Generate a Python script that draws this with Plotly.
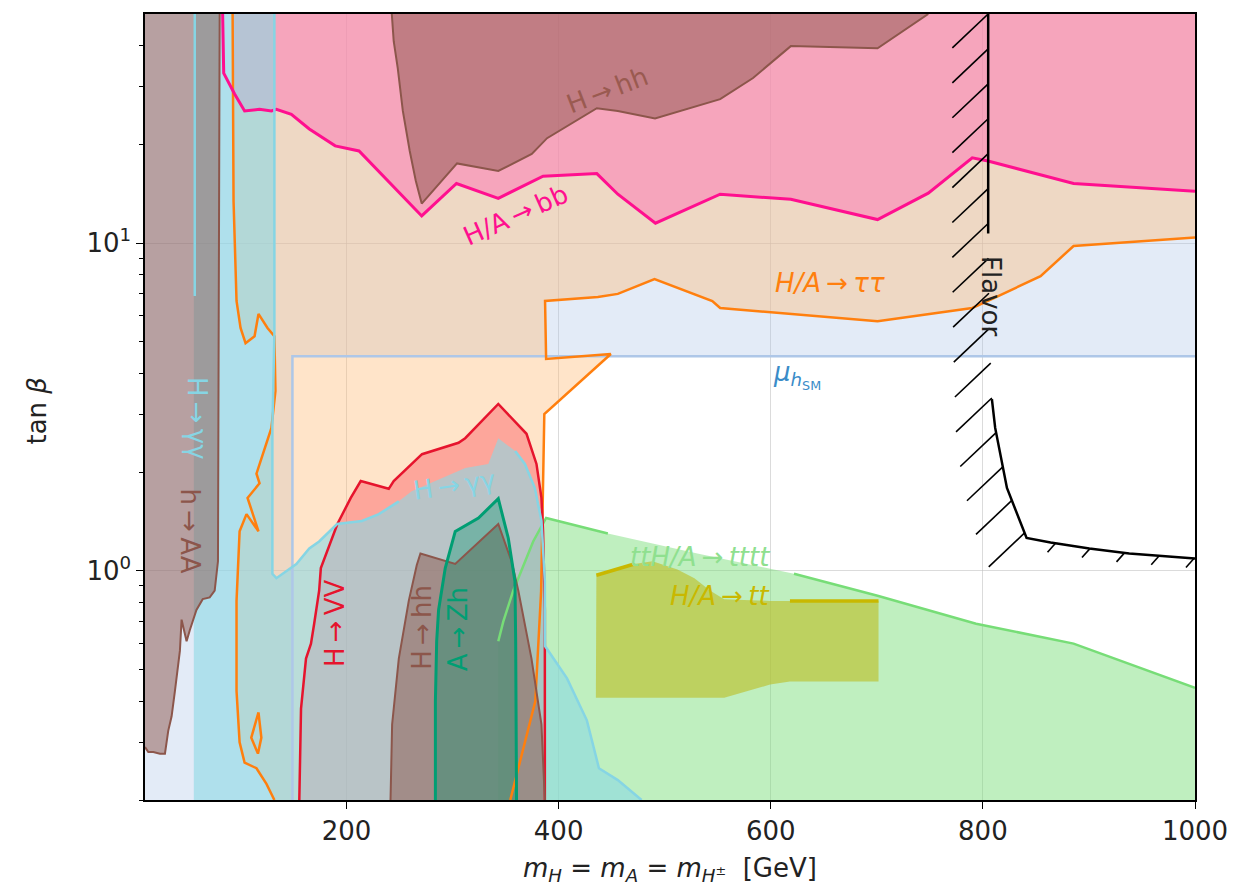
import numpy as np
import plotly.graph_objects as go

# ---------------------------------------------------------------------------
# Axis ranges
MASS_RANGE = [10, 1000]          # m_H = m_A = m_H+- [GeV]
TANB_RANGE = [0.2, 50]           # tan(beta)

# ---------------------------------------------------------------------------
# Excluded regions (mass in GeV, tan(beta))

# mu_hSM: excluded below MU_MASS_EDGE and above MU_TANB_EDGE
MU_MASS_EDGE = 149
MU_TANB_EDGE = 4.52

# h -> AA (brown band at low mass)
HAA_M = [10, 80.4, 79.5, 78.8, 75.7, 71.0, 64.4, 61.6, 58.5, 52.3, 49.2, 44.5,
         42.9, 38.2, 35.1, 31.9, 28.8, 24.1, 17.8, 13.1, 10]
HAA_TB = [50, 50, 5.0, 1.07, 0.87, 0.83, 0.82, 0.79, 0.76, 0.66, 0.61, 0.71,
          0.57, 0.43, 0.36, 0.325, 0.277, 0.277, 0.28, 0.28, 0.29]

# H -> gamma gamma
HGG_LEFT_M = [56.9, 56.9]
HGG_LEFT_TB = [50, 6.9]
HGG_M = [56, 132, 132, 130.1, 130.1, 133.9, 152.7, 164.9, 174.2, 191.1, 214.6,
         230.5, 249.3, 261.4, 312, 333.7, 343.1, 359, 368.2, 377.6, 383.8, 387,
         387.2, 407.9, 426.6, 438, 455.8, 478.2, 56]
HGG_TB = [50, 50, 5.28, 2.73, 0.98, 0.95, 1.05, 1.17, 1.23, 1.39, 1.42,
          1.49, 1.63, 1.75, 2.06, 2.12, 2.54, 2.32, 2.12, 1.79, 1.42, 0.93,
          0.59, 0.47, 0.35, 0.25, 0.23, 0.2, 0.2]

# H/A -> tau tau
TAU_LEFT_M = [92.6, 93.5, 96.3, 100.1, 104.8, 113.3, 117, 125.5, 132, 133,
              129.2, 115.1, 118, 106.7, 117, 105.7, 99.2, 96.3, 96.3, 99.2,
              103.9, 115.1, 124.5, 132]
TAU_LEFT_TB = [50, 13.4, 6.66, 5.51, 4.95, 5.2, 6.08, 5.51, 5.2, 3.54,
               2.73, 1.98, 1.85, 1.67, 1.32, 1.49, 1.32, 0.81, 0.43, 0.30,
               0.26, 0.25, 0.224, 0.2]
TAU_RIGHT_M = [354.4, 378, 383.5, 386.5, 449.2, 388.2, 387.2, 437, 455.8,
               490.4, 544.9, 552.3, 700.7, 790, 804.8, 854.4, 885.5, 1000]
TAU_RIGHT_TB = [0.2, 0.40, 0.87, 3.01, 4.59, 4.43, 6.66, 6.85, 7.0,
                7.77, 6.66, 6.34, 5.78, 6.34, 6.66, 7.93, 9.8, 10.4]
TAU_ISLAND_M = [117, 119.7, 116.5, 110.2, 117]
TAU_ISLAND_TB = [0.37, 0.31, 0.277, 0.31, 0.37]

# H/A -> bb
BB_M = [83.2, 84.2, 94.5, 103.9, 117.9, 129.2, 133.9, 148, 164.9, 189.3,
        211.8, 270.9, 303.7, 343.1, 385.3, 436, 455.8, 491.3, 552.3, 618.9,
        700.7, 748.5, 790, 804.8, 885.5, 1000]
BB_TB = [50, 33, 28.5, 25.3, 25.6, 25.3, 25.6, 24.7, 22.3, 19.8,
         19.1, 12.1, 15.2, 13.7, 16.0, 16.3, 14.1, 11.5, 14.1, 13.6,
         11.8, 14.2, 18.2, 17.8, 15.2, 14.4]

# H -> hh (high tan(beta) island and low tan(beta) island)
HH_TOP_M = [242.7, 244.5, 248.3, 253.1, 259.6, 265.3, 270.9, 304.2, 343.1,
            374.7, 389.1, 436, 455.8, 490.9, 552.3, 583.3, 618.9, 700.7, 748.5]
HH_TOP_TB = [50, 41.3, 34.2, 25.3, 19.1, 15.5, 13.2, 17.5, 16.6,
             18.7, 20.9, 25.8, 25.3, 24.0, 27.5, 31.9, 39.9, 39.3, 50]
HH_LOW_M = [241.5, 243, 249.3, 258.7, 266.2, 269.7, 302.5, 343.1, 355.6, 362,
            374.4, 383.8, 387]
HH_LOW_TB = [0.2, 0.34, 0.54, 0.81, 1.04, 1.13, 1.05, 1.39, 1.07, 0.87,
             0.54, 0.34, 0.2]

# H -> VV
VV_M = [155.5, 157.1, 161.8, 166.5, 169.5, 174.2, 175.8, 191.4, 204, 213.4,
        239.8, 244.5, 271.2, 305.6, 311.9, 343.1, 369.7, 379.1, 383.8, 385.3,
        387, 387]
VV_TB = [0.2, 0.38, 0.54, 0.60, 0.69, 0.87, 1.02, 1.39, 1.67, 1.88,
         1.78, 1.88, 2.27, 2.46, 2.54, 3.23, 2.62, 2.12, 1.67, 1.32,
         0.76, 0.2]

# A -> Zh
AZH_M = [283.8, 283.8, 285, 286.8, 293.1, 302.5, 324.4, 343.1, 352.5, 358.8,
         359.5, 360.3]
AZH_TB = [0.2, 0.40, 0.61, 0.76, 1.02, 1.32, 1.45, 1.66, 1.26, 0.93,
          0.61, 0.2]

# ttH/A -> tttt
TTTT_M = [343.1, 347.8, 357.2, 366.6, 376, 388.2, 446.4, 530.8, 621.9, 700.7,
          793.6, 885.5, 1000]
TTTT_TB = [0.61, 0.70, 0.87, 1.04, 1.23, 1.45, 1.30, 1.13, 0.98, 0.84,
           0.69, 0.60, 0.44]

# H/A -> tt
HTT_M = [435.6, 471.4, 488.5, 512, 528, 543, 556.1, 599.3, 618.1, 701.6,
         701.6, 618.1, 599.3, 556.1, 435.1]
HTT_TB = [0.97, 1.05, 1.07, 1.01, 0.95, 0.87, 0.82, 0.81, 0.81, 0.81,
          0.46, 0.46, 0.45, 0.41, 0.41]

# Flavour constraint (excluded on the lower-left side)
FLAVOR_M = [805, 805, 806, 808.5, 811.6, 822.7, 841.2, 863.8, 900.4, 938, 1000]
FLAVOR_TB = [50, 10.7, 6.0, 3.34, 2.73, 1.79, 1.26, 1.22, 1.17, 1.13, 1.09]

# Axis ticks
X_TICKS = [200, 400, 600, 800, 1000]
Y_TICKS = [1, 10]
Y_TICK_TEXT = ["10<sup>0</sup>", "10<sup>1</sup>"]
Y_MINOR = [0.2, 0.3, 0.4, 0.5, 0.6, 0.7, 0.8, 0.9, 2, 3, 4, 5, 6, 7, 8, 9,
           20, 30, 40]

# ---------------------------------------------------------------------------
FIG_W, FIG_H = 1240, 895
MARGIN = dict(l=145, r=40, t=12, b=95)
FONT = "DejaVu Sans"

C_MU = "#aec7e8"
C_TAU = "#ff7f0e"
C_BB = "#ff0f8f"
C_CYAN = "#86d5e4"
C_BROWN = "#8c564b"
C_RED = "#e6142d"
C_TEAL = "#009e73"
C_GREEN = "#77dd77"
C_OLIVE = "#c9b800"

fig = go.Figure()


def add_fill(m, tb, color):
    fig.add_trace(go.Scatter(x=m, y=tb, mode="lines", fill="toself",
                             fillcolor=color, line=dict(width=0),
                             hoverinfo="skip", showlegend=False))


def add_line(m, tb, color, width):
    fig.add_trace(go.Scatter(x=m, y=tb, mode="lines",
                             line=dict(color=color, width=width),
                             connectgaps=False, hoverinfo="skip",
                             showlegend=False))


def with_gap(m, tb, keep_a, keep_b):
    """Join two index ranges of a path with a break between them."""
    xs = list(m[keep_a[0]:keep_a[1]]) + [None] + list(m[keep_b[0]:keep_b[1]])
    ys = list(tb[keep_a[0]:keep_a[1]]) + [None] + list(tb[keep_b[0]:keep_b[1]])
    return xs, ys


lo_m, hi_m = MASS_RANGE
lo_tb, hi_tb = TANB_RANGE

# ---- filled regions (drawn back to front) ----------------------------------
add_fill([lo_m, MU_MASS_EDGE, MU_MASS_EDGE, hi_m, hi_m, lo_m],
         [lo_tb, lo_tb, MU_TANB_EDGE, MU_TANB_EDGE, hi_tb, hi_tb],
         "rgba(174,199,232,0.35)")

add_fill(TAU_LEFT_M + TAU_RIGHT_M + [hi_m, TAU_LEFT_M[0]],
         TAU_LEFT_TB + TAU_RIGHT_TB + [hi_tb, hi_tb],
         "rgba(255,187,120,0.40)")

add_fill(TTTT_M + [hi_m, TTTT_M[0]], TTTT_TB + [lo_tb, lo_tb],
         "rgba(120,220,120,0.47)")

add_fill(HTT_M, HTT_TB, "rgba(188,189,34,0.60)")

add_fill([TAU_LEFT_M[0]] + BB_M[2:] + [hi_m],
         [hi_tb] + BB_TB[2:] + [hi_tb],
         "rgba(255,105,180,0.45)")

add_fill(VV_M, VV_TB, "rgba(248,40,60,0.33)")

add_fill(HGG_M, HGG_TB, "rgba(140,216,228,0.60)")

add_fill(HAA_M, HAA_TB, "rgba(140,86,75,0.50)")
add_fill(HH_TOP_M, HH_TOP_TB, "rgba(140,86,75,0.50)")
add_fill(HH_LOW_M, HH_LOW_TB, "rgba(140,86,75,0.50)")

add_fill(AZH_M, AZH_TB, "rgba(0,150,110,0.35)")

# ---- boundary lines --------------------------------------------------------
add_line([MU_MASS_EDGE, MU_MASS_EDGE, hi_m], [lo_tb, MU_TANB_EDGE, MU_TANB_EDGE],
         C_MU, 2.5)

add_line(TAU_LEFT_M, TAU_LEFT_TB, C_TAU, 2.5)
add_line(TAU_RIGHT_M, TAU_RIGHT_TB, C_TAU, 2.5)
add_line(TAU_ISLAND_M, TAU_ISLAND_TB, C_TAU, 2.5)

add_line(BB_M, BB_TB, C_BB, 3)

gx, gy = with_gap(TTTT_M, TTTT_TB, (0, 7), (8, len(TTTT_M)))
add_line(gx, gy, C_GREEN, 2.5)

ox, oy = with_gap(HTT_M, HTT_TB, (0, 2), (8, 10))
add_line(ox, oy, C_OLIVE, 3.5)

add_line(VV_M, VV_TB, C_RED, 2.5)

add_line(HGG_LEFT_M, HGG_LEFT_TB, C_CYAN, 2.5)
cx, cy = with_gap(HGG_M, HGG_TB, (1, 13), (17, len(HGG_M) - 1))
add_line(cx, cy, C_CYAN, 2.5)

add_line(HAA_M[1:], HAA_TB[1:], C_BROWN, 2)
add_line(HH_TOP_M, HH_TOP_TB, C_BROWN, 2)
add_line(HH_LOW_M, HH_LOW_TB, C_BROWN, 2)

add_line(AZH_M, AZH_TB, C_TEAL, 3)

# ---- flavour boundary with ticked side -------------------------------------
fx, fy = with_gap(FLAVOR_M, FLAVOR_TB, (0, 2), (3, len(FLAVOR_M)))
add_line(fx, fy, "black", 2.5)

plot_w = FIG_W - MARGIN["l"] - MARGIN["r"]
plot_h = FIG_H - MARGIN["t"] - MARGIN["b"]
px_per_gev = plot_w / (hi_m - lo_m)
px_per_dec = plot_h / (np.log10(hi_tb) - np.log10(lo_tb))

u = (np.array(FLAVOR_M) - lo_m) * px_per_gev
v = -np.log10(FLAVOR_TB) * px_per_dec            # screen coordinates, y down
seg = np.hypot(np.diff(u), np.diff(v))
cum = np.concatenate([[0], np.cumsum(seg)])
hatch_x, hatch_y = [], []
step = 35.0
s = 0.0
while s <= cum[-1]:
    i = min(np.searchsorted(cum, s, side="right") - 1, len(seg) - 1)
    t = (s - cum[i]) / seg[i]
    pu = u[i] + t * (u[i + 1] - u[i])
    pv = v[i] + t * (v[i + 1] - v[i])
    du, dv = u[i + 1] - u[i], v[i + 1] - v[i]
    if abs(dv) > abs(du):
        ou, ov = -36.0, 34.0
    else:
        ou, ov = -8.0, 9.0
    for qu, qv in ((pu, pv), (pu + ou, pv + ov)):
        hatch_x.append(qu / px_per_gev + lo_m)
        hatch_y.append(10 ** (-qv / px_per_dec))
    hatch_x.append(None)
    hatch_y.append(None)
    s += step
add_line(hatch_x, hatch_y, "black", 1.6)

# ---- region labels ---------------------------------------------------------
ARW = "\u2009\u2192\u2009"
LABELS = [
    ("H" + ARW + "hh", 446.4, 29.3, -21, "#9a5a50"),
    ("H/A" + ARW + "bb", 359.6, 12.2, -24, C_BB),
    ("<i>H/A</i>" + ARW + "<i>ττ</i>", 655.5, 7.55, 0, C_TAU),
    ("<i>μ</i><sub><i>h</i><sub>SM</sub></sub>", 624.5, 3.95, 0, "#3a8cc8"),
    ("Flavor", 807.5, 6.9, 90, "#222222"),
    ("H" + ARW + "γγ", 58.8, 2.91, 90, C_CYAN),
    ("h" + ARW + "AA", 52.2, 1.32, 90, C_BROWN),
    ("H" + ARW + "γγ", 301.8, 1.83, -8, C_CYAN),
    ("H" + ARW + "VV", 189.2, 0.694, -90, C_RED),
    ("H" + ARW + "hh", 271.0, 0.675, -90, C_BROWN),
    ("A" + ARW + "Zh", 304.6, 0.666, -90, C_TEAL),
    ("<i>ttH/A</i>" + ARW + "<i>tttt</i>", 533.6, 1.10, 0, "#8fe08f"),
    ("<i>H/A</i>" + ARW + "<i>tt</i>", 551.4, 0.84, 0, C_OLIVE),
]
for text, m, tb, ang, col in LABELS:
    fig.add_annotation(x=m, y=np.log10(tb), xref="x", yref="y", text=text,
                       showarrow=False, textangle=ang,
                       font=dict(family=FONT, size=26, color=col),
                       xanchor="center", yanchor="middle")

# ---- axis titles -----------------------------------------------------------
fig.add_annotation(
    x=0.5, y=-(870 - 800) / plot_h, xref="paper", yref="paper",
    text="<i>m<sub>H</sub></i> = <i>m<sub>A</sub></i> = "
         "<i>m<sub>H<sup>±</sup></sub></i>  [GeV]",
    showarrow=False, xanchor="center", yanchor="middle",
    font=dict(family=FONT, size=26, color="#222222"))
fig.add_annotation(
    x=(36 - MARGIN["l"]) / plot_w, y=(800 - 410) / plot_h,
    xref="paper", yref="paper", text="tan <i>β</i>", textangle=-90,
    showarrow=False, xanchor="center", yanchor="middle",
    font=dict(family=FONT, size=26, color="#222222"))

axis_common = dict(showline=True, linecolor="black", linewidth=1.5, mirror=True,
                   ticks="outside", ticklen=7, tickwidth=1.3, tickcolor="black",
                   showgrid=True, gridcolor="rgba(190,190,190,0.55)",
                   gridwidth=1, zeroline=False, layer="above traces",
                   tickfont=dict(family=FONT, size=26, color="#222222"))

fig.update_xaxes(range=MASS_RANGE, tickvals=X_TICKS, **axis_common)
fig.update_yaxes(type="log", range=[np.log10(lo_tb), np.log10(hi_tb)],
                 tickvals=Y_TICKS, ticktext=Y_TICK_TEXT,
                 minor=dict(tickvals=Y_MINOR, ticklen=4, tickwidth=1.2,
                            tickcolor="black", ticks="outside", showgrid=False),
                 **axis_common)

fig.update_layout(width=FIG_W, height=FIG_H, margin=MARGIN,
                  paper_bgcolor="white", plot_bgcolor="white",
                  showlegend=False, font=dict(family=FONT))

fig.write_html("out.html")
